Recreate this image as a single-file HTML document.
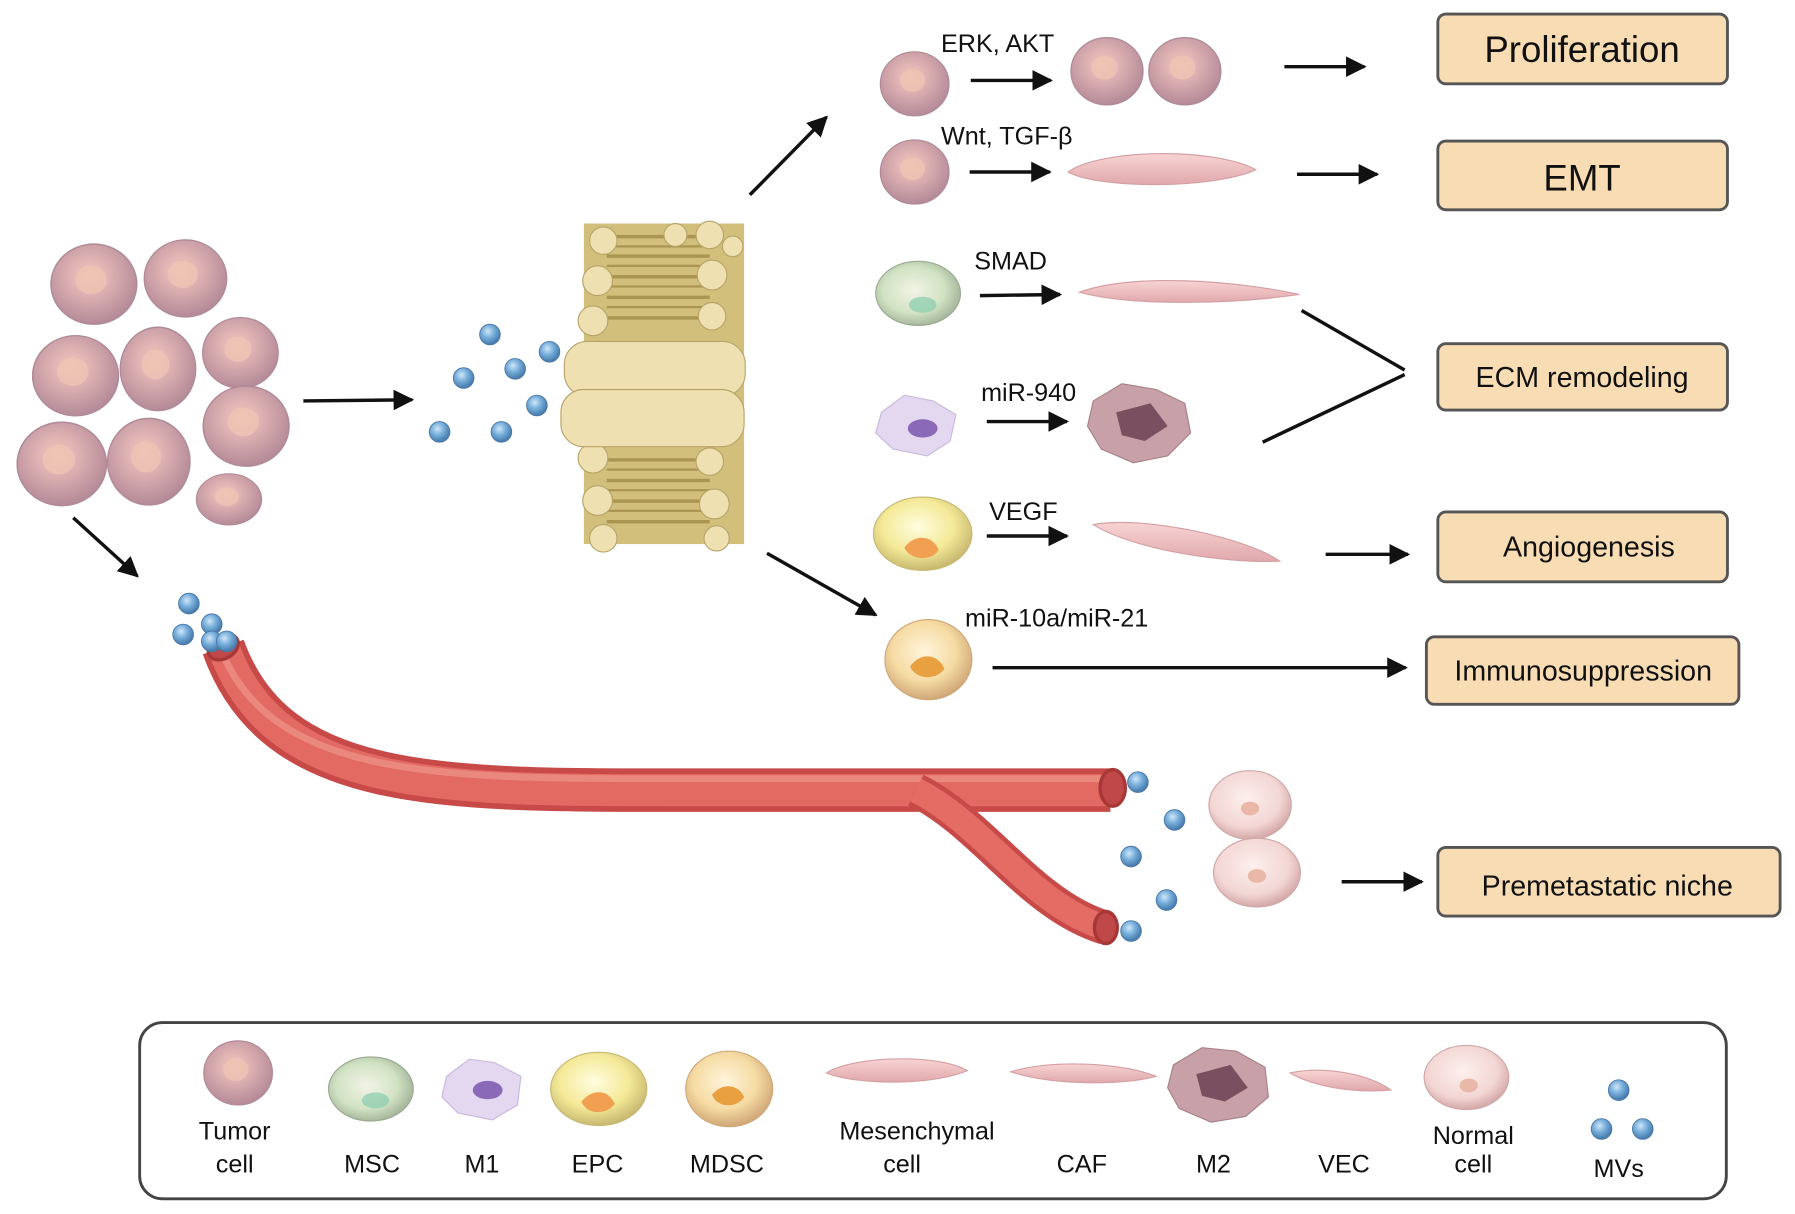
<!DOCTYPE html>
<html><head><meta charset="utf-8"><style>
html,body{margin:0;padding:0;background:#fff;}
svg{display:block;}
text{font-family:"Liberation Sans",sans-serif;fill:#111;}
</style></head><body>
<svg width="1795" height="1214" viewBox="0 0 1568 1060" xmlns="http://www.w3.org/2000/svg">
<defs>
<radialGradient id="tc" cx="45%" cy="40%" r="60%"><stop offset="0" stop-color="#f0c8b8"/><stop offset="0.35" stop-color="#e0b4b4"/><stop offset="1" stop-color="#b48a98"/></radialGradient>
<radialGradient id="mv" cx="40%" cy="35%" r="60%"><stop offset="0" stop-color="#cfe6f8"/><stop offset="0.5" stop-color="#7ab0dc"/><stop offset="1" stop-color="#4a7fb0"/></radialGradient>
<radialGradient id="msc" cx="45%" cy="45%" r="60%"><stop offset="0" stop-color="#f2f4e6"/><stop offset="0.6" stop-color="#d2e2c4"/><stop offset="1" stop-color="#9cae94"/></radialGradient>
<radialGradient id="epc" cx="45%" cy="40%" r="60%"><stop offset="0" stop-color="#fffde0"/><stop offset="0.6" stop-color="#f4ea98"/><stop offset="1" stop-color="#c8b870"/></radialGradient>
<radialGradient id="mdsc" cx="45%" cy="40%" r="60%"><stop offset="0" stop-color="#fff4dc"/><stop offset="0.6" stop-color="#f6dca4"/><stop offset="1" stop-color="#d0a878"/></radialGradient>
<radialGradient id="nc" cx="45%" cy="40%" r="60%"><stop offset="0" stop-color="#fdf0ee"/><stop offset="0.7" stop-color="#f2d6d4"/><stop offset="1" stop-color="#d4a8a8"/></radialGradient>
<linearGradient id="mes" x1="0" y1="0" x2="0" y2="1"><stop offset="0" stop-color="#f8d4d4"/><stop offset="1" stop-color="#e0a8ac"/></linearGradient>
<marker id="ah" viewBox="0 0 10 10" refX="9" refY="5" markerWidth="6" markerHeight="6" orient="auto"><path d="M0,0 L10,5 L0,10 z" fill="#111"/></marker>
<g id="tcell"><ellipse cx="0" cy="0" rx="30" ry="28" fill="url(#tc)" stroke="#b08a98" stroke-width="1"/><ellipse cx="-2" cy="-3" rx="11" ry="10" fill="#eec4b4" opacity="0.8"/></g>
<g id="mvd"><circle r="9" fill="url(#mv)" stroke="#4a78a8" stroke-width="0.8"/></g>
</defs>

<g>
<use href="#tcell" transform="translate(82,248) scale(1.25)"/>
<use href="#tcell" transform="translate(162,243) scale(1.2)"/>
<use href="#tcell" transform="translate(66,328) scale(1.25)"/>
<use href="#tcell" transform="translate(138,322) scale(1.1,1.3)"/>
<use href="#tcell" transform="translate(210,308) scale(1.1)"/>
<use href="#tcell" transform="translate(215,372) scale(1.25)"/>
<use href="#tcell" transform="translate(54,405) scale(1.3)"/>
<use href="#tcell" transform="translate(130,403) scale(1.2,1.35)"/>
<use href="#tcell" transform="translate(200,436) scale(0.95,0.8)"/>
</g>

<g stroke="#111" stroke-width="3" fill="none" marker-end="url(#ah)">
<line x1="265" y1="350" x2="360" y2="349"/>
<line x1="64" y1="452" x2="120" y2="503"/>
<line x1="655" y1="170" x2="722" y2="102"/>
<line x1="670" y1="483" x2="765" y2="537"/>
<line x1="848" y1="70" x2="918" y2="70"/>
<line x1="1122" y1="58" x2="1192" y2="58"/>
<line x1="847" y1="150" x2="917" y2="150"/>
<line x1="1133" y1="152" x2="1203" y2="152"/>
<line x1="856" y1="258" x2="926" y2="257"/>
<line x1="862" y1="368" x2="932" y2="368"/>
<line x1="862" y1="468" x2="932" y2="468"/>
<line x1="1158" y1="484" x2="1230" y2="484"/>
<line x1="867" y1="583" x2="1228" y2="583"/>
<line x1="1172" y1="770" x2="1242" y2="770"/>
</g>
<g stroke="#111" stroke-width="3" fill="none">
<line x1="1137" y1="271" x2="1227" y2="323"/>
<line x1="1103" y1="386" x2="1227" y2="327"/>
</g>

<g>
<rect x="510" y="195" width="140" height="280" fill="#d2bf7c"/>
<g fill="#9a8640" opacity="0.7">
<rect x="530" y="205" width="90" height="3"/><rect x="530" y="214" width="90" height="2"/><rect x="530" y="222" width="90" height="3"/><rect x="530" y="231" width="90" height="2"/><rect x="530" y="240" width="90" height="3"/><rect x="530" y="249" width="90" height="2"/><rect x="530" y="258" width="90" height="3"/><rect x="530" y="267" width="90" height="2"/><rect x="530" y="276" width="90" height="3"/>
<rect x="530" y="400" width="90" height="3"/><rect x="530" y="409" width="90" height="2"/><rect x="530" y="418" width="90" height="3"/><rect x="530" y="427" width="90" height="2"/><rect x="530" y="436" width="90" height="3"/><rect x="530" y="445" width="90" height="2"/><rect x="530" y="454" width="90" height="3"/>
</g>
<g fill="#eee0b0" stroke="#b8a468" stroke-width="1">
<circle cx="527" cy="210" r="12"/><circle cx="522" cy="245" r="13"/><circle cx="518" cy="280" r="13"/>
<circle cx="620" cy="205" r="12"/><circle cx="622" cy="240" r="13"/><circle cx="622" cy="276" r="12"/>
<circle cx="590" cy="205" r="10"/><circle cx="640" cy="215" r="9"/>
<circle cx="518" cy="400" r="13"/><circle cx="522" cy="437" r="13"/><circle cx="527" cy="470" r="12"/>
<circle cx="620" cy="403" r="12"/><circle cx="624" cy="440" r="13"/><circle cx="626" cy="470" r="11"/>
<rect x="493" y="298" width="158" height="48" rx="20"/>
<rect x="490" y="340" width="160" height="50" rx="20"/>
</g>
</g>
<g>
<use href="#mvd" x="428" y="292"/><use href="#mvd" x="480" y="307"/><use href="#mvd" x="405" y="330"/>
<use href="#mvd" x="450" y="322"/><use href="#mvd" x="469" y="354"/><use href="#mvd" x="384" y="377"/><use href="#mvd" x="438" y="377"/>
</g>

<g fill="none" stroke-linecap="butt">
<path d="M195,565 C240,690 380,690 590,690 C760,690 880,690 970,690" stroke="#c84a48" stroke-width="38"/>
<path d="M195,565 C240,690 380,690 590,690 C760,690 880,690 970,690" stroke="#e26a62" stroke-width="28"/>
<path d="M190,560 C233,680 380,680 590,680 C760,680 880,680 970,680" stroke="#f0968a" stroke-width="6" opacity="0.7"/>
<path d="M800,690 C860,720 900,790 965,810" stroke="#c84a48" stroke-width="30"/>
<path d="M800,690 C860,720 900,790 965,810" stroke="#e46c64" stroke-width="22"/>
</g>
<ellipse cx="195" cy="565" rx="14" ry="10" fill="#c04848" stroke="#a83838" stroke-width="3" transform="rotate(-30 195 565)"/>
<ellipse cx="972" cy="688" rx="11" ry="16" fill="#c04848" stroke="#a83838" stroke-width="3"/>
<ellipse cx="966" cy="810" rx="10" ry="14" fill="#c04848" stroke="#a83838" stroke-width="3"/>
<use href="#mvd" x="165" y="527"/><use href="#mvd" x="160" y="554"/><use href="#mvd" x="185" y="545"/><use href="#mvd" x="185" y="560"/><use href="#mvd" x="198" y="560"/>
<use href="#mvd" x="994" y="683"/><use href="#mvd" x="1026" y="716"/><use href="#mvd" x="988" y="748"/><use href="#mvd" x="1019" y="786"/><use href="#mvd" x="988" y="813"/>
<ellipse cx="1092" cy="703" rx="36" ry="30" fill="url(#nc)" stroke="#d0a8a8"/>
<ellipse cx="1098" cy="762" rx="38" ry="30" fill="url(#nc)" stroke="#d0a8a8"/>
<ellipse cx="1092" cy="706" rx="8" ry="6" fill="#eab8a8"/><ellipse cx="1098" cy="765" rx="8" ry="6" fill="#eab8a8"/>

<use href="#tcell" transform="translate(799,73)"/>
<use href="#tcell" transform="translate(967,62) scale(1.05)"/>
<use href="#tcell" transform="translate(1035,62) scale(1.05)"/>
<use href="#tcell" transform="translate(799,150)"/>
<path d="M933,150 C960,130 1060,128 1097,148 C1060,165 960,165 933,150 Z" fill="url(#mes)" stroke="#d4a0a4"/>
<ellipse cx="802" cy="256" rx="37" ry="28" fill="url(#msc)" stroke="#9aaa90"/>
<ellipse cx="806" cy="266" rx="12" ry="7" fill="#7cc8a8" opacity="0.6"/>
<path d="M943,255 C990,238 1080,245 1135,257 C1080,265 990,268 943,255 Z" fill="url(#mes)" stroke="#d4a0a4"/>
<path d="M770,360 L790,345 L815,350 L835,362 L830,385 L810,398 L780,392 L765,378 Z" fill="#e4d8f0" stroke="#c8b8dc"/>
<ellipse cx="806" cy="374" rx="13" ry="8" fill="#8a6ab8"/>
<path d="M955,350 L980,335 L1010,340 L1035,352 L1040,378 L1020,398 L990,404 L962,392 L950,372 Z" fill="#c8a0a8" stroke="#a88088"/>
<path d="M975,360 L1005,352 L1020,372 L1000,385 L980,380 Z" fill="#7a5060"/>
<ellipse cx="806" cy="466" rx="43" ry="32" fill="url(#epc)" stroke="#c8b870"/>
<path d="M790,478 C800,465 815,468 820,480 C815,490 795,490 790,478 Z" fill="#f0a050"/>
<path d="M955,458 C1000,450 1090,470 1118,490 C1070,492 990,480 955,458 Z" fill="url(#mes)" stroke="#d4a0a4"/>
<ellipse cx="811" cy="576" rx="38" ry="35" fill="url(#mdsc)" stroke="#d0a878"/>
<path d="M795,582 C805,568 820,572 825,584 C818,594 800,594 795,582 Z" fill="#e8a040"/>

<g font-size="22">
<text x="822" y="45">ERK, AKT</text>
<text x="822" y="126">Wnt, TGF-β</text>
<text x="851" y="235">SMAD</text>
<text x="857" y="350">miR-940</text>
<text x="864" y="454">VEGF</text>
<text x="843" y="547">miR-10a/miR-21</text>
</g>

<g fill="#f8dcb4" stroke="#555" stroke-width="2.5">
<rect x="1256" y="12" width="253" height="61" rx="7"/>
<rect x="1256" y="123" width="253" height="60" rx="7"/>
<rect x="1256" y="300" width="253" height="58" rx="7"/>
<rect x="1256" y="447" width="253" height="61" rx="7"/>
<rect x="1246" y="556" width="273" height="59" rx="7"/>
<rect x="1256" y="740" width="299" height="60" rx="7"/>
</g>
<g text-anchor="middle">
<text x="1382" y="54" font-size="32">Proliferation</text>
<text x="1382" y="166" font-size="32">EMT</text>
<text x="1382" y="338" font-size="25">ECM remodeling</text>
<text x="1388" y="486" font-size="25">Angiogenesis</text>
<text x="1383" y="594" font-size="25">Immunosuppression</text>
<text x="1404" y="782" font-size="25">Premetastatic niche</text>
</g>

<rect x="122" y="893" width="1386" height="154" rx="20" fill="#fff" stroke="#444" stroke-width="2.5"/>
<use href="#tcell" transform="translate(208,937)"/>
<ellipse cx="324" cy="951" rx="37" ry="28" fill="url(#msc)" stroke="#9aaa90"/>
<ellipse cx="328" cy="961" rx="12" ry="7" fill="#7cc8a8" opacity="0.6"/>
<path d="M390,940 L410,925 L432,928 L455,940 L452,965 L430,978 L400,972 L386,958 Z" fill="#e4d8f0" stroke="#c8b8dc"/>
<ellipse cx="426" cy="952" rx="13" ry="8" fill="#8a6ab8"/>
<ellipse cx="523" cy="951" rx="42" ry="32" fill="url(#epc)" stroke="#c8b870"/>
<path d="M508,962 C518,950 532,952 537,964 C530,974 512,974 508,962 Z" fill="#f0a050"/>
<ellipse cx="637" cy="951" rx="38" ry="33" fill="url(#mdsc)" stroke="#d0a878"/>
<path d="M622,956 C632,944 646,948 650,958 C644,968 626,968 622,956 Z" fill="#e8a040"/>
<path d="M722,937 C745,922 820,920 845,935 C815,948 750,948 722,937 Z" fill="url(#mes)" stroke="#d4a0a4"/>
<path d="M883,936 C920,925 980,928 1010,940 C980,948 920,948 883,936 Z" fill="url(#mes)" stroke="#d4a0a4"/>
<path d="M1025,930 L1050,915 L1080,918 L1105,932 L1108,958 L1088,975 L1058,980 L1030,968 L1020,950 Z" fill="#c8a0a8" stroke="#a88088"/>
<path d="M1045,938 L1075,930 L1090,950 L1070,962 L1050,957 Z" fill="#7a5060"/>
<path d="M1127,937 C1160,930 1200,940 1215,952 C1180,955 1145,948 1127,937 Z" fill="url(#mes)" stroke="#d4a0a4"/>
<ellipse cx="1281" cy="941" rx="37" ry="28" fill="url(#nc)" stroke="#d0a8a8"/>
<ellipse cx="1283" cy="948" rx="8" ry="6" fill="#eab8a8"/>
<use href="#mvd" x="1414" y="952"/><use href="#mvd" x="1399" y="986"/><use href="#mvd" x="1435" y="986"/>
<g font-size="22" text-anchor="middle">
<text x="205" y="995">Tumor</text><text x="205" y="1024">cell</text>
<text x="325" y="1024">MSC</text>
<text x="421" y="1024">M1</text>
<text x="522" y="1024">EPC</text>
<text x="635" y="1024">MDSC</text>
<text x="801" y="995">Mesenchymal</text><text x="788" y="1024">cell</text>
<text x="945" y="1024">CAF</text>
<text x="1060" y="1024">M2</text>
<text x="1174" y="1024">VEC</text>
<text x="1287" y="999">Normal</text><text x="1287" y="1024">cell</text>
<text x="1414" y="1028">MVs</text>
</g>
</svg>
</body></html>
